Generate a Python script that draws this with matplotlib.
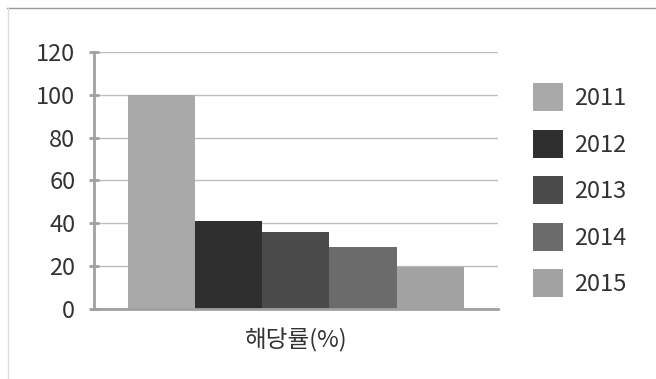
import matplotlib.pyplot as plt
from matplotlib.lines import Line2D

plt.rcParams['font.family'] = ['Noto Sans CJK KR', 'DejaVu Sans']

# 연도별 해당률
years = ['2011', '2012', '2013', '2014', '2015']
rates = [100, 41, 36, 29, 19.5]
colors = ['#a9a9a9', '#2f2f2f', '#4b4b4b', '#6b6b6b', '#a3a3a3']
category = '해당률(%)'
yticks = [0, 20, 40, 60, 80, 100, 120]

fig = plt.figure(figsize=(6.56, 3.79), dpi=100)
ax = fig.add_axes([0.1433, 0.1855, 0.6157, 0.6773])

width = 0.166
for i, (yr, val, c) in enumerate(zip(years, rates, colors)):
    ax.bar((i - 2) * width, val, width=width, color=c, label=yr, zorder=2)

ax.set_xlim(-0.5, 0.5)
ax.set_ylim(0, 120)
ax.set_yticks(yticks)
ax.set_xticks([])
ax.set_xlabel(category, fontsize=17, color='#333333', labelpad=14)

ax.yaxis.grid(True, color='#bdbdbd', linewidth=1, zorder=0)
ax.set_axisbelow(True)
for s in ['top', 'right']:
    ax.spines[s].set_visible(False)
for s in ['left', 'bottom']:
    ax.spines[s].set_color('#a0a0a0')
    ax.spines[s].set_linewidth(2)
ax.tick_params(axis='y', direction='inout', length=7, width=2, color='#a0a0a0',
               labelsize=17, labelcolor='#333333', pad=10)

ax.legend(loc='upper left', bbox_to_anchor=(0.812, 0.78), bbox_transform=fig.transFigure,
          frameon=False, fontsize=17, handlelength=1.3, handleheight=1.45,
          handletextpad=0.45, labelspacing=0.78, borderpad=0, borderaxespad=0,
          labelcolor='#333333')

# 바깥 테두리
fig.add_artist(Line2D([0.011, 1.0], [0.979, 0.979], transform=fig.transFigure,
                      color='#999999', linewidth=1))
fig.add_artist(Line2D([0.012, 0.012], [0.0, 0.979], transform=fig.transFigure,
                      color='#dddddd', linewidth=1))

fig.savefig('out.png', dpi=100)
